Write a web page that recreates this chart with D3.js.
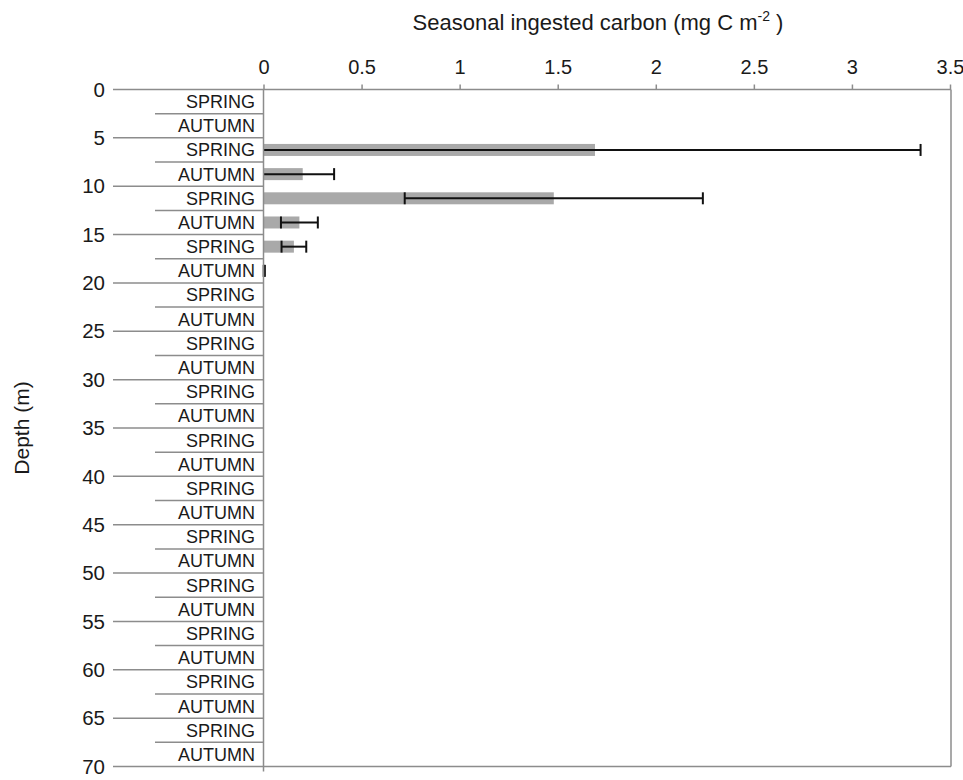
<!DOCTYPE html>
<html>
<head>
<meta charset="utf-8">
<script src="https://cdn.jsdelivr.net/npm/d3@7"></script>
<style>
  html, body { margin: 0; padding: 0; background: #fff; }
  svg { display: block; font-family: "Liberation Sans", Arial, sans-serif; }
</style>
</head>
<body>
<svg id="chart" width="963" height="780"></svg>
<script>
// Seasonal ingested carbon by 2.5 m depth layer, spring and autumn
const seasons = [
  "SPRING", "AUTUMN", "SPRING", "AUTUMN", "SPRING", "AUTUMN", "SPRING", "AUTUMN",
  "SPRING", "AUTUMN", "SPRING", "AUTUMN", "SPRING", "AUTUMN", "SPRING", "AUTUMN",
  "SPRING", "AUTUMN", "SPRING", "AUTUMN", "SPRING", "AUTUMN", "SPRING", "AUTUMN",
  "SPRING", "AUTUMN", "SPRING", "AUTUMN"
];
const layerTop = [
  0, 2.5, 5, 7.5, 10, 12.5, 15, 17.5, 20, 22.5, 25, 27.5, 30, 32.5,
  35, 37.5, 40, 42.5, 45, 47.5, 50, 52.5, 55, 57.5, 60, 62.5, 65, 67.5
];
const carbon = [
  0, 0, 1.69, 0.20, 1.48, 0.183, 0.155, 0.004, 0, 0, 0, 0, 0, 0,
  0, 0, 0, 0, 0, 0, 0, 0, 0, 0, 0, 0, 0, 0
];
// error below / above each mean
const carbonErrMinus = [
  0, 0, 1.69, 0.20, 0.76, 0.094, 0.063, 0.003, 0, 0, 0, 0, 0, 0,
  0, 0, 0, 0, 0, 0, 0, 0, 0, 0, 0, 0, 0, 0
];
const carbonErrPlus = [
  0, 0, 1.66, 0.16, 0.76, 0.094, 0.063, 0.003, 0, 0, 0, 0, 0, 0,
  0, 0, 0, 0, 0, 0, 0, 0, 0, 0, 0, 0, 0, 0
];
const depthTicks = [0, 5, 10, 15, 20, 25, 30, 35, 40, 45, 50, 55, 60, 65, 70];
const carbonTicks = [0, 0.5, 1, 1.5, 2, 2.5, 3, 3.5];

const svg = d3.select("#chart");
const axisGrey = "#8c8c8c";
const textCol = "#1a1a1a";

const x = d3.scaleLinear().domain([0, 3.5]).range([263.5, 950]);
const y = d3.scaleLinear().domain([0, 70]).range([89.5, 766.5]);
const leftLong = 113, leftShort = 155;

// top value axis
const xAxis = d3.axisTop(x).tickValues(carbonTicks)
  .tickFormat(d3.format("")).tickSize(5).tickSizeOuter(0).tickPadding(11);
const gx = svg.append("g").attr("transform", `translate(0,${y(0)})`).call(xAxis);
gx.select(".domain").remove();
gx.selectAll(".tick line").attr("stroke", axisGrey).attr("stroke-width", 1.5);
gx.selectAll(".tick text").attr("fill", textCol).attr("font-size", 20)
  .attr("font-family", "Liberation Sans, Arial, sans-serif");

// horizontal rules: depth ticks (long) and mid-layer separators (short)
const rules = svg.append("g").attr("stroke", axisGrey).attr("stroke-width", 1.5);
rules.selectAll("line.long").data(depthTicks).join("line")
  .attr("class", "long")
  .attr("x1", leftLong)
  .attr("x2", d => (d === 0 || d === 70) ? x(3.5) + 1 : x(0))
  .attr("y1", d => y(d)).attr("y2", d => y(d));
rules.selectAll("line.short").data(depthTicks.slice(0, -1)).join("line")
  .attr("class", "short")
  .attr("x1", leftShort).attr("x2", x(0))
  .attr("y1", d => y(d + 2.5)).attr("y2", d => y(d + 2.5));

// right edge
svg.append("line")
  .attr("x1", x(3.5) + 1).attr("x2", x(3.5) + 1)
  .attr("y1", y(0)).attr("y2", y(70))
  .attr("stroke", axisGrey).attr("stroke-width", 1.5);

// depth labels
svg.append("g").selectAll("text").data(depthTicks).join("text")
  .attr("x", 105).attr("y", d => y(d)).attr("dy", "0.35em")
  .attr("text-anchor", "end").attr("font-size", 20.5).attr("fill", textCol)
  .text(d => d);

// season labels, centred in each layer
svg.append("g").selectAll("text").data(seasons).join("text")
  .attr("x", 255).attr("y", (d, i) => y(layerTop[i] + 1.25)).attr("dy", "0.36em")
  .attr("text-anchor", "end").attr("font-size", 18).attr("fill", textCol)
  .text(d => d);

// bars
const barH = 12;
svg.append("g").selectAll("rect").data(carbon.map((v, i) => ({ v, i })).filter(d => d.v > 0))
  .join("rect")
  .attr("x", x(0)).attr("width", d => x(d.v) - x(0))
  .attr("y", d => y(layerTop[d.i] + 1.25) - barH / 2).attr("height", barH)
  .attr("fill", "#a9a9a9");

// error bars (a cap is drawn only where the end lies inside the axis)
const errData = carbon.map((v, i) => ({ v, lo: v - carbonErrMinus[i], hi: v + carbonErrPlus[i], i }))
  .filter(d => d.hi > d.v);
const eg = svg.append("g").attr("stroke", "#111").attr("stroke-width", 2);
errData.forEach(d => {
  const cy = y(layerTop[d.i] + 1.25);
  const lo = Math.max(0, d.lo);
  eg.append("line").attr("x1", x(lo)).attr("x2", x(d.hi)).attr("y1", cy).attr("y2", cy);
  [lo, d.hi].filter(b => b > 0).forEach(b => {
    eg.append("line").attr("x1", x(b)).attr("x2", x(b))
      .attr("y1", cy - 6).attr("y2", cy + 6);
  });
});

// vertical zero axis
svg.append("line")
  .attr("x1", x(0)).attr("x2", x(0))
  .attr("y1", y(0)).attr("y2", y(70) + 5)
  .attr("stroke", axisGrey).attr("stroke-width", 1.5);

// axis titles
const title = svg.append("text").attr("x", 598).attr("y", 30)
  .attr("text-anchor", "middle").attr("font-size", 22).attr("fill", textCol);
title.append("tspan").text("Seasonal ingested carbon (mg C m");
title.append("tspan").attr("font-size", 14).attr("dy", -9).text("-2");
title.append("tspan").attr("dy", 9).text(" )");

svg.append("text")
  .attr("transform", `translate(29,${(y(0) + y(70)) / 2}) rotate(-90)`)
  .attr("text-anchor", "middle").attr("font-size", 21).attr("fill", textCol)
  .text("Depth (m)");
</script>
</body>
</html>
